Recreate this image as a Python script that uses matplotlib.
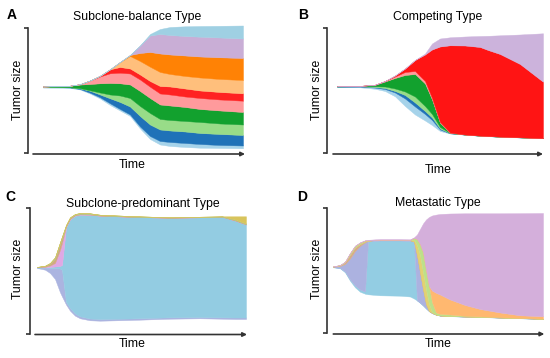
import numpy as np
import matplotlib
matplotlib.use("Agg")
import matplotlib.pyplot as plt

plt.rcParams["font.family"] = ["Liberation Sans", "DejaVu Sans"]

W, H = 550, 358
INK = "#333333"

# ---- A: subclone-balance type ------------------------------------------------
# edges of the stacked clones, bottom edge first, top edge last
a_time = [0, 27, 37, 47, 57, 67, 77, 87, 97, 107, 117, 127, 142, 157, 177, 200]
a_edges = [
    [65.4, 66.3, 66.4, 66.4, 66.5, 66.5, 66.5, 66.5, 66.5, 66.5, 66.5],
    [65.0, 65.5, 65.7, 65.8, 67.2, 67.3, 67.3, 67.3, 67.3, 67.3, 67.3],
    [63.5, 64.0, 64.6, 64.9, 68.4, 68.8, 68.8, 68.8, 68.8, 68.8, 68.8],
    [59.5, 60.3, 62.2, 62.7, 69.0, 72.4, 72.5, 72.5, 72.5, 72.5, 72.5],
    [54.5, 55.7, 58.5, 60.5, 69.7, 76.5, 77.2, 77.2, 77.2, 77.2, 77.2],
    [48.0, 49.7, 54.7, 58.5, 70.0, 79.7, 83.7, 83.7, 83.7, 83.7, 83.7],
    [42.5, 44.0, 51.0, 57.5, 69.7, 80.3, 86.0, 91.0, 91.0, 91.0, 91.0],
    [37.0, 38.5, 46.5, 55.0, 68.5, 79.5, 84.5, 97.0, 98.0, 98.0, 98.0],
    [24.5, 26.5, 37.0, 47.0, 62.0, 73.5, 78.5, 92.0, 100.0, 107.5, 107.5],
    [14.0, 17.0, 28.5, 40.0, 55.0, 66.3, 72.0, 86.3, 101.0, 117.5, 119.0],
    [8.5, 12.0, 23.5, 34.0, 48.5, 59.5, 67.0, 81.0, 99.5, 119.0, 124.0],
    [7.0, 11.0, 22.5, 33.0, 47.5, 58.5, 66.5, 79.0, 98.5, 118.0, 126.0],
    [6.0, 10.0, 21.5, 32.0, 46.0, 56.5, 64.5, 77.0, 97.5, 117.0, 126.7],
    [5.3, 9.0, 20.0, 31.0, 44.0, 55.0, 62.5, 75.5, 96.5, 116.3, 127.0],
    [5.0, 8.0, 19.0, 29.5, 42.5, 53.5, 61.0, 74.0, 95.7, 115.5, 127.2],
    [4.7, 7.5, 18.0, 28.5, 41.0, 52.3, 59.7, 73.0, 95.0, 114.5, 127.5],
]
a_colors = ["#a6d3ea", "#1f72b8", "#98dc88", "#12a12e", "#ff9a9c",
            "#ff2222", "#ffbf7c", "#ff8205", "#c9aed6", "#9fd0e3"]

# ---- B: competing type -------------------------------------------------------
b_time = [0, 23, 38, 48, 58, 68, 78, 88, 95, 103, 113, 128, 143, 151, 163, 183, 206]
b_edges = [
    [65.8, 66.3, 66.5, 66.6, 66.7, 66.7, 66.7, 66.7],
    [65.7, 66.4, 66.7, 66.9, 67.1, 67.1, 67.1, 67.1],
    [64.2, 65.4, 66.0, 66.7, 68.2, 68.3, 68.3, 68.3],
    [62.0, 64.0, 65.0, 66.5, 71.5, 72.0, 72.0, 72.0],
    [56.7, 60.5, 62.0, 64.5, 75.0, 76.5, 77.5, 77.5],
    [47.0, 54.5, 58.0, 61.5, 78.0, 81.0, 84.5, 84.5],
    [38.5, 46.5, 50.5, 56.5, 79.0, 82.0, 93.0, 93.0],
    [32.5, 39.0, 42.0, 47.0, 69.5, 72.0, 98.5, 99.5],
    [28.0, 33.0, 35.5, 39.0, 53.5, 55.0, 103.5, 109.5],
    [22.0, 23.5, 24.5, 26.0, 30.2, 31.0, 106.5, 114.5],
    [19.5, 19.7, 19.9, 20.1, 20.3, 20.4, 107.7, 115.7],
    [18.3, 18.4, 18.4, 18.5, 18.5, 18.5, 107.5, 116.5],
    [17.2, 17.3, 17.3, 17.4, 17.4, 17.4, 106.0, 117.0],
    [16.8, 16.9, 16.9, 17.0, 17.0, 17.0, 103.0, 117.2],
    [16.2, 16.3, 16.3, 16.4, 16.4, 16.4, 99.0, 117.7],
    [15.5, 15.6, 15.6, 15.7, 15.7, 15.7, 89.0, 118.5],
    [14.7, 14.8, 14.8, 14.9, 14.9, 14.9, 71.3, 119.7],
]
b_colors = ["#a6d3ea", "#1f72b8", "#98dc88", "#12a12e", "#ff9a9c", "#ff1414", "#ccb3dc"]

# ---- C: subclone-predominant type --------------------------------------------
c_time = [0, 8, 13, 18, 23, 25, 29, 33, 38, 43, 53, 63, 93, 133, 163, 185, 198, 209]
c_edges = [
    [66.0, 66.4, 66.6, 66.8, 67.0, 67.1, 67.1],
    [64.3, 66.4, 66.7, 67.2, 68.0, 68.3, 68.3],
    [61.0, 66.2, 67.0, 68.5, 70.4, 71.0, 71.0],
    [55.0, 66.0, 67.5, 71.0, 75.5, 76.7, 76.7],
    [41.7, 65.5, 68.0, 84.0, 90.0, 91.7, 91.7],
    [37.5, 64.0, 69.0, 91.0, 96.0, 97.5, 97.5],
    [29.5, 32.0, 106.5, 107.2, 108.2, 109.0, 109.0],
    [23.3, 26.0, 114.5, 115.0, 116.0, 116.7, 116.7],
    [18.3, 20.5, 118.2, 118.6, 119.3, 120.0, 120.0],
    [15.7, 17.7, 119.3, 119.6, 120.3, 121.0, 121.0],
    [13.7, 15.5, 119.2, 119.4, 120.0, 120.7, 120.7],
    [13.3, 15.0, 118.2, 118.3, 118.7, 119.3, 119.3],
    [14.0, 15.5, 117.2, 117.2, 117.4, 118.0, 118.0],
    [15.3, 16.7, 116.2, 116.2, 116.4, 116.7, 116.7],
    [15.7, 17.0, 116.7, 116.7, 116.9, 117.3, 117.3],
    [15.3, 16.7, 117.2, 117.2, 117.4, 117.7, 117.7],
    [15.0, 16.5, 113.5, 113.5, 114.0, 114.5, 117.7],
    [15.0, 16.5, 109.5, 109.5, 110.0, 110.5, 117.7],
]
c_colors = ["#abb4e0", "#93cce2", "#e0a8e4", "#d2a880", "#a8cf8c", "#d8c45c"]

# ---- D: metastatic type ------------------------------------------------------
d_time = [0, 7, 12, 17, 22, 27, 32, 35, 47, 67, 77, 81, 84, 87, 90, 93, 96, 99,
          103, 107, 117, 132, 147, 167, 187, 210]
d_edges = [
    [65.7, 66.0, 66.2, 66.4, 66.5, 66.6, 66.6, 66.7],
    [64.7, 65.0, 67.0, 67.7, 67.7, 67.9, 67.9, 68.0],
    [60.7, 61.5, 69.0, 70.7, 70.8, 71.2, 71.2, 71.3],
    [52.3, 53.5, 74.5, 78.2, 78.5, 79.7, 79.8, 80.0],
    [45.7, 47.5, 82.0, 85.5, 85.8, 87.0, 87.2, 87.3],
    [41.3, 43.5, 87.0, 89.0, 89.2, 90.2, 90.5, 90.7],
    [39.3, 41.5, 90.5, 91.5, 91.7, 92.3, 92.6, 92.7],
    [38.7, 91.5, 92.3, 92.4, 92.4, 92.5, 92.5, 93.2],
    [37.7, 92.5, 93.2, 93.2, 93.2, 93.2, 93.2, 94.0],
    [37.3, 92.5, 93.2, 93.2, 93.2, 93.2, 93.2, 94.0],
    [36.5, 92.0, 92.7, 92.7, 92.9, 93.1, 93.1, 93.7],
    [34.5, 91.0, 91.5, 91.5, 93.5, 95.2, 95.2, 95.7],
    [32.5, 32.7, 78.0, 78.0, 88.0, 94.0, 94.0, 98.5],
    [30.2, 30.4, 61.0, 61.0, 78.0, 89.0, 89.0, 104.0],
    [27.5, 27.7, 44.0, 44.0, 61.0, 81.0, 81.0, 109.5],
    [24.5, 24.7, 29.0, 29.0, 44.0, 63.5, 63.5, 113.5],
    [21.7, 21.9, 22.0, 22.0, 29.0, 47.0, 47.0, 116.0],
    [19.8, 20.0, 20.2, 20.2, 21.0, 31.0, 42.5, 117.5],
    [18.2, 18.3, 18.4, 18.4, 18.7, 20.5, 40.2, 118.4],
    [17.3, 17.4, 17.5, 17.5, 17.7, 19.2, 38.5, 119.0],
    [16.8, 16.9, 17.0, 17.0, 17.1, 18.5, 33.5, 119.5],
    [16.3, 16.4, 16.5, 16.5, 16.6, 17.2, 28.0, 119.7],
    [16.0, 16.1, 16.2, 16.2, 16.3, 16.6, 24.0, 119.7],
    [15.3, 15.4, 15.5, 15.5, 15.6, 15.8, 20.5, 119.7],
    [14.7, 14.8, 14.9, 14.9, 15.0, 15.1, 17.7, 119.8],
    [14.0, 14.1, 14.2, 14.2, 14.3, 14.4, 16.7, 120.0],
]
d_colors = ["#93cde3", "#acb2e0", "#d6aa8a", "#e2d272", "#bde08a", "#ffb870", "#d4afdb"]

panels = [
    # letter, title, data, colors, origin px, x-range, bracket top, arrow, text rows
    ("A", "Subclone-balance Type", a_time, a_edges, a_colors, (43, 153), (-15, 205), 125, (-10, 202, -1), (15, 17, 90, 165), (12, 137, 18, 132)),
    ("B", "Competing Type", b_time, b_edges, b_colors, (337, 153), (-10.3, 210), 124.7, (-4, 206, -1), (15, 17, 90, 170), (303, 438, 317, 438)),
    ("C", "Subclone-predominant Type", c_time, c_edges, c_colors, (37, 334), (-7, 213), 126, (-2, 210, -0.5), (197, 204, 269, 344), (10, 143, 18, 132)),
    ("D", "Metastatic Type", d_time, d_edges, d_colors, (333, 333), (-6.3, 214), 124.7, (0.3, 211.3, -1), (197, 203, 269, 344), (302, 438, 317, 438)),
]

fig = plt.figure(figsize=(W / 100, H / 100), dpi=100)

for letter, title, time, edges, colors, (x0, y0), (xl, xr), btop, arr, ys, xs in panels:
    ax = fig.add_axes([(x0 + xl) / W, (H - y0 - 8) / H, (xr - xl) / W, 138 / H])
    e = np.array(edges).T
    for i, c in enumerate(colors):
        ax.fill_between(time, e[i], e[i + 1], color=c, lw=0.3, ec=c)
    ax.set_xlim(xl, xr)
    ax.set_ylim(-8, 130)
    for side in ["top", "right", "bottom"]:
        ax.spines[side].set_visible(False)
    ax.spines["left"].set_bounds(0, btop)
    ax.spines["left"].set_color(INK)
    ax.spines["left"].set_linewidth(1.2)
    ax.set_xticks([])
    ax.set_yticks([0, btop])
    ax.set_yticklabels([])
    ax.tick_params(axis="y", direction="out", length=3, width=1.2, color=INK)
    ax.patch.set_alpha(0)
    ax.annotate("", xy=(arr[1], arr[2]), xytext=(arr[0], arr[2]),
                arrowprops=dict(arrowstyle="-|>", color=INK, lw=1.2,
                                mutation_scale=6, shrinkA=0, shrinkB=0),
                annotation_clip=False)

    fig.text(xs[0] / W, 1 - ys[0] / H, letter, fontsize=10, fontweight="bold",
             ha="center", va="center")
    fig.text(xs[1] / W, 1 - ys[1] / H, title, fontsize=8.8, ha="center", va="center")
    fig.text(xs[2] / W, 1 - ys[2] / H, "Tumor size", fontsize=8.8, rotation=90,
             ha="center", va="center")
    fig.text(xs[3] / W, 1 - ys[3] / H, "Time", fontsize=8.8, ha="center", va="center")

fig.savefig("out.png", dpi=100)
